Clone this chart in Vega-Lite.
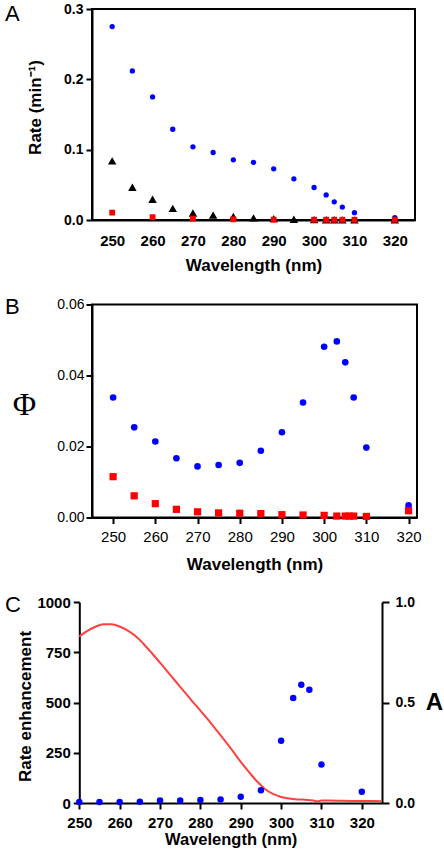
{
  "$schema": "https://vega.github.io/schema/vega-lite/v6.json",
  "padding": {"left": 3, "top": 1, "right": 5, "bottom": 5},
  "bounds": "flush",
  "spacing": 84.5,
  "config": {
    "font": "Liberation Sans",
    "view": {"stroke": "black", "strokeWidth": 2},
    "axis": {"grid": false, "labelFlush": false, "labelOverlap": false, "domainColor": "black", "domainWidth": 2, "tickColor": "black", "tickWidth": 2, "labelColor": "black", "titleColor": "black", "labelFont": "Liberation Sans", "titleFont": "Liberation Sans"}
  },
  "datasets": {
    "A_circles": [
      {"wavelength": 250, "rate": 0.275}, {"wavelength": 255, "rate": 0.212}, {"wavelength": 260, "rate": 0.175}, {"wavelength": 265, "rate": 0.129},
      {"wavelength": 270, "rate": 0.104}, {"wavelength": 275, "rate": 0.096}, {"wavelength": 280, "rate": 0.0856}, {"wavelength": 285, "rate": 0.082},
      {"wavelength": 290, "rate": 0.0728}, {"wavelength": 295, "rate": 0.0585}, {"wavelength": 300, "rate": 0.0462}, {"wavelength": 303, "rate": 0.0356},
      {"wavelength": 305, "rate": 0.0259}, {"wavelength": 307, "rate": 0.0184}, {"wavelength": 310, "rate": 0.0104}, {"wavelength": 320, "rate": 0.0035}
    ],
    "A_triangles": [
      {"wavelength": 250, "rate": 0.084}, {"wavelength": 255, "rate": 0.0466}, {"wavelength": 260, "rate": 0.0295}, {"wavelength": 265, "rate": 0.0166},
      {"wavelength": 270, "rate": 0.010}, {"wavelength": 275, "rate": 0.007}, {"wavelength": 280, "rate": 0.005}, {"wavelength": 285, "rate": 0.003},
      {"wavelength": 290, "rate": 0.002}, {"wavelength": 295, "rate": 0.001}, {"wavelength": 300, "rate": 0.0005}, {"wavelength": 303, "rate": 0.0003},
      {"wavelength": 305, "rate": 0.0003}, {"wavelength": 307, "rate": 0.0002}, {"wavelength": 310, "rate": 0.0002}, {"wavelength": 320, "rate": 0.0001}
    ],
    "A_squares": [
      {"wavelength": 250, "rate": 0.0105}, {"wavelength": 260, "rate": 0.004}, {"wavelength": 270, "rate": 0.002}, {"wavelength": 280, "rate": 0.001},
      {"wavelength": 290, "rate": 0.0005}, {"wavelength": 300, "rate": 0.0004}, {"wavelength": 303, "rate": 0.0004}, {"wavelength": 305, "rate": 0.0004},
      {"wavelength": 307, "rate": 0.0004}, {"wavelength": 310, "rate": 0.0004}, {"wavelength": 320, "rate": 0.0004}
    ],
    "B_circles": [
      {"wavelength": 250, "phi": 0.0338}, {"wavelength": 255, "phi": 0.0254}, {"wavelength": 260, "phi": 0.0214}, {"wavelength": 265, "phi": 0.0167},
      {"wavelength": 270, "phi": 0.0144}, {"wavelength": 275, "phi": 0.0148}, {"wavelength": 280, "phi": 0.0154}, {"wavelength": 285, "phi": 0.0188},
      {"wavelength": 290, "phi": 0.024}, {"wavelength": 295, "phi": 0.0324}, {"wavelength": 300, "phi": 0.0481}, {"wavelength": 303, "phi": 0.0496},
      {"wavelength": 305, "phi": 0.0437}, {"wavelength": 307, "phi": 0.0338}, {"wavelength": 310, "phi": 0.0197}, {"wavelength": 320, "phi": 0.0034}
    ],
    "B_squares": [
      {"wavelength": 250, "phi": 0.0115}, {"wavelength": 255, "phi": 0.0061}, {"wavelength": 260, "phi": 0.0039}, {"wavelength": 265, "phi": 0.0023},
      {"wavelength": 270, "phi": 0.0016}, {"wavelength": 275, "phi": 0.0013}, {"wavelength": 280, "phi": 0.0012}, {"wavelength": 285, "phi": 0.0011},
      {"wavelength": 290, "phi": 0.0008}, {"wavelength": 295, "phi": 0.0007}, {"wavelength": 300, "phi": 0.0006}, {"wavelength": 303, "phi": 0.0004},
      {"wavelength": 305, "phi": 0.0004}, {"wavelength": 306, "phi": 0.0004}, {"wavelength": 307, "phi": 0.0004}, {"wavelength": 310, "phi": 0.0003},
      {"wavelength": 320, "phi": 0.0019}
    ],
    "C_rate": [
      {"wavelength": 250, "enhancement": 5}, {"wavelength": 255, "enhancement": 5}, {"wavelength": 260, "enhancement": 5}, {"wavelength": 265, "enhancement": 6},
      {"wavelength": 270, "enhancement": 12}, {"wavelength": 275, "enhancement": 12}, {"wavelength": 280, "enhancement": 15}, {"wavelength": 285, "enhancement": 18},
      {"wavelength": 290, "enhancement": 31}, {"wavelength": 295, "enhancement": 63}, {"wavelength": 300, "enhancement": 310}, {"wavelength": 303, "enhancement": 522},
      {"wavelength": 305, "enhancement": 588}, {"wavelength": 307, "enhancement": 564}, {"wavelength": 310, "enhancement": 191}, {"wavelength": 320, "enhancement": 56}
    ],
    "C_abs": [
      {"wavelength": 250, "absorbance": 0.828}, {"wavelength": 252, "absorbance": 0.856}, {"wavelength": 254, "absorbance": 0.877}, {"wavelength": 256, "absorbance": 0.889},
      {"wavelength": 258, "absorbance": 0.889}, {"wavelength": 260, "absorbance": 0.878}, {"wavelength": 262, "absorbance": 0.858}, {"wavelength": 264, "absorbance": 0.830},
      {"wavelength": 266, "absorbance": 0.790}, {"wavelength": 268, "absorbance": 0.745}, {"wavelength": 270, "absorbance": 0.698}, {"wavelength": 272, "absorbance": 0.650},
      {"wavelength": 274, "absorbance": 0.602}, {"wavelength": 276, "absorbance": 0.554}, {"wavelength": 278, "absorbance": 0.506}, {"wavelength": 280, "absorbance": 0.460},
      {"wavelength": 282, "absorbance": 0.412}, {"wavelength": 284, "absorbance": 0.362}, {"wavelength": 286, "absorbance": 0.311}, {"wavelength": 288, "absorbance": 0.259},
      {"wavelength": 290, "absorbance": 0.205}, {"wavelength": 292, "absorbance": 0.155}, {"wavelength": 294, "absorbance": 0.108}, {"wavelength": 296, "absorbance": 0.070},
      {"wavelength": 298, "absorbance": 0.045}, {"wavelength": 300, "absorbance": 0.030}, {"wavelength": 302, "absorbance": 0.022}, {"wavelength": 304, "absorbance": 0.018},
      {"wavelength": 306, "absorbance": 0.016}, {"wavelength": 308, "absorbance": 0.013}, {"wavelength": 309, "absorbance": 0.008}, {"wavelength": 310, "absorbance": 0.012},
      {"wavelength": 312, "absorbance": 0.012}, {"wavelength": 315, "absorbance": 0.011}, {"wavelength": 320, "absorbance": 0.010}, {"wavelength": 325, "absorbance": 0.009}
    ]
  },
  "vconcat": [
    {
      "width": 323,
      "height": 211,
      "layer": [
        {
          "data": {"name": "A_circles"},
          "mark": {"type": "circle", "color": "#0000ff", "size": 28, "opacity": 1},
          "encoding": {
            "x": {"field": "wavelength", "type": "quantitative", "scale": {"domain": [245, 325], "nice": false, "zero": false},
              "axis": {"title": "Wavelength (nm)", "values": [250, 260, 270, 280, 290, 300, 310, 320], "tickSize": 0, "labelFontSize": 15, "labelFontWeight": "bold", "labelBaseline": "alphabetic", "labelPadding": 25, "titleFontSize": 17, "titleFontWeight": "bold", "titleBaseline": "alphabetic", "titleY": 50.5}},
            "y": {"field": "rate", "type": "quantitative", "scale": {"domain": [0, 0.3], "nice": false},
              "axis": {"title": "Rate  (min⁻¹)", "values": [0, 0.1, 0.2, 0.3], "format": ".1f", "tickSize": 6, "labelPadding": 3, "labelFontSize": 14, "labelFontWeight": "bold", "titleFontSize": 17, "titleFontWeight": "bold", "titleAngle": -90, "titleAlign": "center", "titleBaseline": "middle", "titleX": -57, "titleY": 98}}
          }
        },
        {
          "data": {"name": "A_triangles"},
          "mark": {"type": "point", "shape": "triangle-up", "filled": true, "color": "#000000", "size": 72, "opacity": 1},
          "encoding": {"x": {"field": "wavelength", "type": "quantitative"}, "y": {"field": "rate", "type": "quantitative"}}
        },
        {
          "data": {"name": "A_squares"},
          "mark": {"type": "square", "color": "#ff0000", "size": 34, "opacity": 1},
          "encoding": {"x": {"field": "wavelength", "type": "quantitative"}, "y": {"field": "rate", "type": "quantitative"}}
        },
        {
          "data": {"values": [{"panel": "A"}]},
          "mark": {"type": "text", "align": "left", "baseline": "alphabetic", "fontSize": 22, "font": "Liberation Sans", "color": "black"},
          "encoding": {"x": {"datum": 223.45}, "y": {"datum": 0.2836}, "text": {"field": "panel"}}
        }
      ]
    },
    {
      "width": 325,
      "height": 213,
      "layer": [
        {
          "data": {"name": "B_circles"},
          "mark": {"type": "circle", "color": "#0000ff", "size": 44, "opacity": 1},
          "encoding": {
            "x": {"field": "wavelength", "type": "quantitative", "scale": {"domain": [245, 322], "nice": false, "zero": false},
              "axis": {"title": "Wavelength (nm)", "values": [250, 260, 270, 280, 290, 300, 310, 320], "tickSize": 6, "labelFontSize": 15, "labelBaseline": "alphabetic", "labelPadding": 18.4, "titleFontSize": 17, "titleFontWeight": "bold", "titleBaseline": "alphabetic", "titleY": 52.2}},
            "y": {"field": "phi", "type": "quantitative", "scale": {"domain": [0, 0.06], "nice": false},
              "axis": {"title": "Φ", "values": [0, 0.02, 0.04, 0.06], "format": ".2f", "tickSize": 6, "labelPadding": 2, "labelFontSize": 14, "titleFont": "Liberation Serif", "titleFontSize": 32, "titleFontWeight": "normal", "titleAngle": 0, "titleAlign": "center", "titleBaseline": "middle", "titleX": -68, "titleY": 100}}
          }
        },
        {
          "data": {"name": "B_squares"},
          "mark": {"type": "square", "color": "#ff0000", "size": 52, "opacity": 1},
          "encoding": {"x": {"field": "wavelength", "type": "quantitative"}, "y": {"field": "phi", "type": "quantitative"}}
        },
        {
          "data": {"values": [{"panel": "B"}]},
          "mark": {"type": "text", "align": "left", "baseline": "alphabetic", "fontSize": 22, "font": "Liberation Sans", "color": "black"},
          "encoding": {"x": {"datum": 224.39}, "y": {"datum": 0.0572}, "text": {"field": "panel"}}
        }
      ]
    },
    {
      "width": 290,
      "height": 201,
      "view": {"stroke": null},
      "layer": [
        {
          "data": {"name": "C_abs"},
          "mark": {"type": "line", "color": "#ff4040", "strokeWidth": 2, "interpolate": "monotone"},
          "encoding": {
            "x": {"field": "wavelength", "type": "quantitative", "scale": {"domain": [250, 325], "range": [-12.7, 290], "nice": false, "zero": false},
              "axis": {"title": "Wavelength (nm)", "values": [250, 260, 270, 280, 290, 300, 310, 320], "tickSize": 6, "labelFontSize": 15, "labelFontWeight": "bold", "labelBaseline": "alphabetic", "labelPadding": 18, "titleFontSize": 16.5, "titleFontWeight": "bold", "titleBaseline": "alphabetic", "titleY": 41}},
            "y": {"field": "absorbance", "type": "quantitative", "scale": {"domain": [0, 1], "nice": false},
              "axis": {"orient": "right", "title": "A", "values": [0, 0.5, 1], "format": ".1f", "tickSize": 7, "labelPadding": 6, "labelFontSize": 14, "labelFontWeight": "bold", "titleFontSize": 24, "titleFontWeight": "bold", "titleAngle": 0, "titleAlign": "center", "titleBaseline": "middle", "titleX": 52, "titleY": 100.5}}
          }
        },
        {
          "data": {"name": "C_rate"},
          "mark": {"type": "circle", "color": "#0000ff", "size": 42, "opacity": 1},
          "encoding": {
            "x": {"field": "wavelength", "type": "quantitative"},
            "y": {"field": "enhancement", "type": "quantitative", "scale": {"domain": [0, 1000], "nice": false},
              "axis": {"orient": "left", "offset": 12.7, "title": "Rate enhancement", "values": [0, 250, 500, 750, 1000], "format": "d", "tickSize": 6, "labelPadding": 3, "labelFontSize": 15, "labelFontWeight": "bold", "titleFontSize": 17, "titleFontWeight": "bold", "titleAngle": -90, "titleAlign": "center", "titleBaseline": "middle", "titleX": -54.3, "titleY": 104}}
          }
        },
        {
          "data": {"values": [{"panel": "C"}]},
          "mark": {"type": "text", "align": "left", "baseline": "alphabetic", "fontSize": 22, "font": "Liberation Sans", "color": "black"},
          "encoding": {"x": {"datum": 231.59}, "y": {"datum": 950.2, "scale": {"domain": [0, 1000], "nice": false}, "axis": null}, "text": {"field": "panel"}}
        }
      ],
      "resolve": {"scale": {"y": "independent"}, "axis": {"y": "independent"}}
    }
  ]
}
